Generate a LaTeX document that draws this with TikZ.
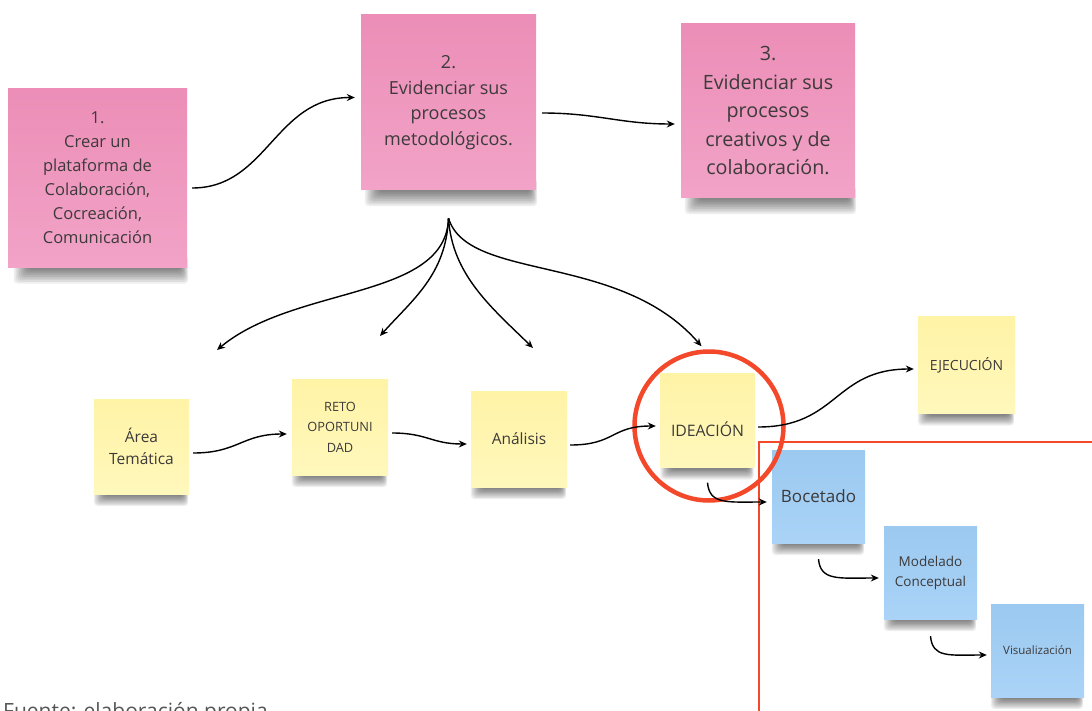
\documentclass[tikz,border=0pt]{standalone}
\usepackage{fontspec}
\setmainfont{Open Sans}
\usetikzlibrary{arrows.meta,calc}

\definecolor{ink}{RGB}{60,58,58}
\definecolor{pinktop}{RGB}{236,142,183}
\definecolor{pinkbot}{RGB}{242,163,199}
\definecolor{yeltop}{RGB}{255,243,166}
\definecolor{yelbot}{RGB}{255,248,188}
\definecolor{bluetop}{RGB}{155,201,240}
\definecolor{bluebot}{RGB}{170,211,247}
\definecolor{redmark}{RGB}{244,72,42}
\definecolor{footgray}{RGB}{85,85,85}

\pgfdeclarelayer{paper}
\pgfdeclarelayer{shade}
\pgfsetlayers{paper,shade,main}

\begin{document}
\begin{tikzpicture}[x=1pt,y=-1pt,
  note/.style={minimum width=#1, minimum height=#1, inner sep=0pt, align=center, text=ink},
  pinknote/.style={note=#1, top color=pinktop, bottom color=pinkbot},
  yelnote/.style={note=#1, top color=yeltop, bottom color=yelbot},
  bluenote/.style={note=#1, top color=bluetop, bottom color=bluebot},
  txt/.style={text=ink, align=center, inner sep=0pt},
  shadowstep/.style={black, opacity=0.065, rounded corners=4pt},
  link/.style={line width=1.4pt, black, -{Stealth[length=8pt,width=7pt]}}
]
\useasboundingbox (0,0) rectangle (1092,711);
\clip (0,0) rectangle (1092,711);
\begin{pgfonlayer}{paper}
  \fill[white] (0,0) rectangle (1092,711);
\end{pgfonlayer}

% goals (pink)
\node[pinknote=179pt, font=\fontsize{16.5}{24}\selectfont] (p1) at (97.5,178)
  {1.\\Crear un\\plataforma de\\Colaboración,\\Cocreación,\\Comunicación};
\node[pinknote=175pt, font=\fontsize{18}{25.5}\selectfont] (p2) at (448.5,102.5)
  {2.\\Evidenciar sus\\procesos\\metodológicos.};
\node[pinknote=174pt, font=\fontsize{19.7}{28.5}\selectfont] (p3) at (768,111)
  {3.\\Evidenciar sus\\procesos\\creativos y de\\colaboración.};

% process steps (yellow)
\node[yelnote=95pt, font=\fontsize{15.5}{22}\selectfont] (a) at (141.5,446.5) {Área\\Temática};
\node[yelnote=96pt, font=\fontsize{12.8}{20.5}\selectfont] (r) at (340,427) {RETO\\OPORTUNI\\DAD};
\node[yelnote=96pt, font=\fontsize{15.5}{20}\selectfont] (an) at (519,439) {Análisis};
\node[yelnote=94pt] (id) at (707.5,420.5) {};
\node[txt, font=\fontsize{15.8}{20}\selectfont] at ($(id)+(0,8.5)$) {IDEACIÓN};
\node[yelnote=97pt, font=\fontsize{14}{20}\selectfont] (ej) at (966.5,365) {EJECUCIÓN};

% ideation sub-steps (blue)
\node[bluenote=93pt, font=\fontsize{17}{22}\selectfont] (bo) at (818.5,496.5) {Bocetado};
\node[bluenote=93pt, font=\fontsize{13.5}{20}\selectfont] (mo) at (930.5,572.5) {Modelado\\Conceptual};
\node[bluenote=93pt, font=\fontsize{11.5}{16}\selectfont] (vi) at (1037.5,650.5) {Visualización};

% soft drop shadows under every note: stacked translucent bars
\begin{pgfonlayer}{shade}
  \foreach \n/\d/\inl in {p1/14/20, p2/14/18, p3/14/18, a/10/10, r/10/10, an/10/10,
                          id/10/10, ej/10/10, bo/10/10, mo/10/10, vi/10/10} {
    \foreach \k in {0,...,8} {
      \pgfmathsetmacro{\rr}{\k*\d/8}
      \fill[shadowstep] ($(\n.south west)+(\inl-\rr,-12)$) rectangle ($(\n.south east)+(-6+0.5*\rr,2+\rr)$);
    }
  }
\end{pgfonlayer}

% highlight marks
\draw[redmark, line width=2pt] (759,720) -- (759,441.5) -- (1100,441.5);
\draw[redmark, line width=4.5pt] (709,426) circle (74.5);

% top row links
\draw[link] ($(p1.east)+(5,10)$) .. controls +(75,0) and +(-80,0) .. ($(p2.west)+(-6,-5)$);
\draw[link] ($(p2.east)+(6,10.5)$) .. controls +(55,0) and +(-55,0) .. ($(p3.west)+(-6,13)$);

% fan out from goal 2
\coordinate (fan) at ($(p2.south)+(0,28)$);
\coordinate (t1) at (217,350);
\coordinate (t2) at (380,336);
\coordinate (t3) at (533,348);
\coordinate (t4) at ($(id.north)+(-6,-27)$);
\draw[link] (fan) .. controls (446,300) and (295,285) .. (t1);
\draw[link] (fan) .. controls (446,275) and (412,300) .. (t2);
\draw[link] (fan) .. controls (452,275) and (492,308) .. (t3);
\draw[link] (fan) .. controls (468,282) and (620,252) .. (t4);

% process links
\draw[link] ($(a.east)+(4,6.5)$) .. controls +(45,0) and +(-45,0) .. ($(r.west)+(-5,7)$);
\draw[link] ($(r.east)+(4,6)$) .. controls +(35,0) and +(-35,0) .. ($(an.west)+(-4,5)$);
\draw[link] ($(an.east)+(3,6)$) .. controls +(45,0) and +(-45,0) .. ($(id.west)+(-4.5,5.5)$);
\draw[link] ($(id.east)+(3.5,6.5)$) .. controls +(80,0) and +(-80,0) .. ($(ej.west)+(-4,4)$);

% ideation sub-step links
\draw[link] ($(id.south)+(0,15)$) .. controls +(2,22) and +(-40,0) .. ($(bo.west)+(-5,5.5)$);
\draw[link] ($(bo.south)+(0,16)$) .. controls +(2,22) and +(-40,0) .. ($(mo.west)+(-5,5.5)$);
\draw[link] ($(mo.south)+(0,17)$) .. controls +(2,22) and +(-38,0) .. ($(vi.west)+(-4,4.5)$);

% source line, running past the lower edge
\node[anchor=base west, inner sep=0pt, text=footgray, font=\fontsize{21}{25}\selectfont] (src) at (3,718.5) {Fuente: elaboración propia};
\end{tikzpicture}
\end{document}
